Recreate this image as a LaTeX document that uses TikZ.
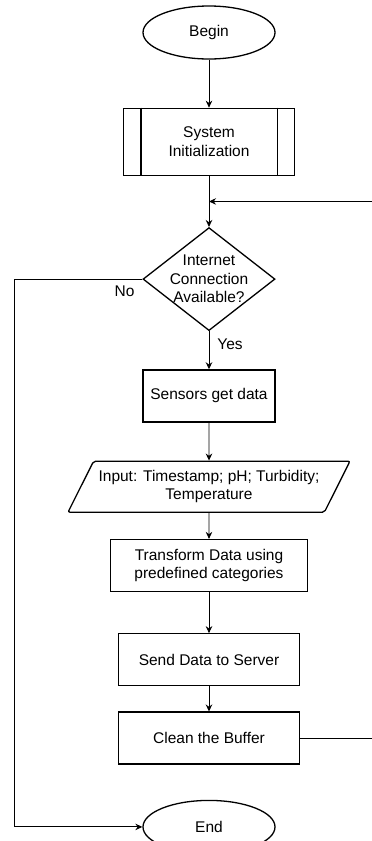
\documentclass[tikz,border=0pt]{standalone}
\usepackage{fontspec}
\setmainfont{Liberation Sans}
\usetikzlibrary{positioning}
\usetikzlibrary{shapes.geometric}
\usetikzlibrary{arrows.meta}
\tikzset{
>={Stealth[length=7pt,width=6.5pt]}, % All arrows with stealth tip
my node/.style={font=\fontsize{15.5}{18.5}\selectfont,align=center,inner sep=1mm},
my shape/.style={draw,my node,line width=1.3pt},
my term/.style={my shape,ellipse,minimum width=132pt,minimum height=53pt},
my proc/.style={my shape,rectangle,minimum height=52pt},
my sub/.style={my proc,minimum width=171pt,minimum height=67pt},
my dec/.style={my shape,diamond,inner sep=-4pt,shape aspect=1.28,minimum width=132pt,minimum height=103pt},
my io/.style={my shape,trapezium,trapezium left angle=57,trapezium right angle=123,
  trapezium stretches=true,rounded corners=2pt,minimum width=283pt,minimum height=51pt},
flow/.style={->,line width=0.9pt},
lbl/.style={my node,inner sep=0pt}
}
\begin{document}
\begin{tikzpicture}[x=1pt,y=1pt]
\useasboundingbox (0,0) rectangle (372,-841);
\clip (0,0) rectangle (372,-841);
\node[my term] (begin) at (209,-32.5) {Begin};
\node[my sub]  (init)  [below=48pt of begin] {System\\Initialization};
\node[my dec]  (check) [below=51pt of init] {Internet\\Connection\\Available?};
\node[my proc,minimum width=132pt] (sense) [below=38pt of check] {Sensors get data};
\node[my io]   (input) [below=38pt of sense] {Input: Timestamp; pH; Turbidity;\\Temperature};
\node[my proc,minimum width=197pt] (trans) [below=26pt of input] {Transform Data using\\predefined categories};
\node[my proc,minimum width=181pt] (send)  [below=41pt of trans] {Send Data to Server};
\node[my proc,minimum width=181pt] (clean) [below=25pt of send] {Clean the Buffer};
\node[my term] (end)   [below=35pt of clean] {End};
% side bars of the predefined process
\draw[line width=1.3pt] ([xshift=18pt]init.north west) -- ([xshift=18pt]init.south west)
                        ([xshift=-18pt]init.north east) -- ([xshift=-18pt]init.south east);
\coordinate (join) at ([yshift=-25.5pt]init.south);
\coordinate (rt) at ([xshift=90pt]clean.east);
\coordinate (lf) at (14.7,0);
\path[flow] (begin) edge (init)
            (init)  edge (check)
            (check) edge node[lbl,right=8pt,pos=0.35]{Yes} (sense)
            (sense) edge (input)
            (input) edge (trans)
            (trans) edge (send)
            (send)  edge (clean);
\draw[flow] (check.west) -- node[lbl,below=6pt,pos=0.14]{No} (check.west -| lf) |- (end);
\draw[flow] (clean.east) -- (rt) |- (join);
\end{tikzpicture}
\end{document}
